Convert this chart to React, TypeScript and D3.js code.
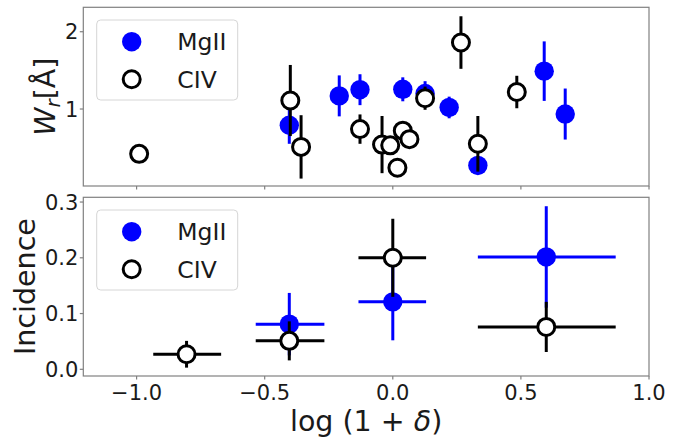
import React from "react";
import * as d3 from "d3";

// ---- Data ----
// Top panel: rest equivalent width vs log(1+delta)
const civX = [-0.99, -0.4, -0.358, -0.128, -0.042, -0.01, 0.039, 0.065, 0.018, 0.126, 0.266, 0.332, 0.484];
const civW = [0.42, 1.11, 0.51, 0.74, 0.54, 0.53, 0.72, 0.61, 0.24, 1.14, 1.86, 0.55, 1.22];
const civWErr = [0, 0.46, 0.41, 0.19, 0.37, 0, 0, 0, 0, 0.15, 0.34, 0.36, 0.21];

const mgX = [-0.404, -0.209, -0.128, 0.039, 0.126, 0.22, 0.332, 0.591, 0.673];
const mgW = [0.79, 1.17, 1.25, 1.255, 1.2, 1.02, 0.27, 1.49, 0.935];
const mgWErr = [0.24, 0.265, 0.2, 0.155, 0.16, 0.14, 0.1, 0.385, 0.33];

// Bottom panel: incidence per density bin
const civBinX = [-0.805, -0.404, 0.0, 0.599];
const civBinLo = [-0.935, -0.535, -0.134, 0.332];
const civBinHi = [-0.67, -0.267, 0.13, 0.87];
const civInc = [0.027, 0.051, 0.2, 0.076];
const civIncErr = [0.024, 0.035, 0.07, 0.045];

const mgBinX = [-0.404, 0.0, 0.599];
const mgBinLo = [-0.535, -0.134, 0.332];
const mgBinHi = [-0.267, 0.13, 0.87];
const mgInc = [0.081, 0.121, 0.2015];
const mgIncErr = [0.056, 0.069, 0.091];

const xTicks = [-1.0, -0.5, 0.0, 0.5, 1.0];
const wTicks = [1, 2];
const incTicks = [0.0, 0.1, 0.2, 0.3];
const seriesNames = ["MgII", "CIV"];

// ---- Layout ----
const W = 694;
const H = 439;
const L = 83.3;
const R = 649;
const topP = { y0: 7.3, y1: 186 };
const botP = { y0: 197.3, y1: 376 };

const BLUE = "#0000ff";
const FRAME = "#808080";
const FONT = "'DejaVu Sans', sans-serif";
const TICK_FS = 21;
const LABEL_FS = 28.5;
const LEG_FS = 23.5;
const MG_R = 9.7;
const CIV_R = 8.5;
const LW = 3;

const x = d3.scaleLinear().domain([-1.208, 1.0]).range([L, R]);
const yW = d3.scaleLinear().domain([0.004, 2.316]).range([topP.y1, topP.y0]);
const yI = d3.scaleLinear().domain([-0.012, 0.3085]).range([botP.y1, botP.y0]);

const fmt = (v: number) => (v < 0 ? "\u2212" : "") + Math.abs(v).toFixed(1);

function Frame({ y0, y1 }: { y0: number; y1: number }) {
  return (
    <rect x={L} y={y0} width={R - L} height={y1 - y0} fill="none" stroke={FRAME} strokeWidth={1.2} />
  );
}

function Legend({ y0 }: { y0: number }) {
  const bx = 96.7, by = y0 + 12.7, bw = 141, bh = 80;
  const r1 = by + 21.7, r2 = by + 59.3;
  return (
    <g>
      <rect x={bx} y={by} width={bw} height={bh} rx={4} fill="white" fillOpacity={0.8} stroke="#d6d6d6" strokeWidth={1} />
      <circle cx={131.7} cy={r1} r={MG_R} fill={BLUE} />
      <circle cx={131.7} cy={r2} r={CIV_R} fill="white" stroke="black" strokeWidth={LW} />
      <text x={177.3} y={r1 + 8.5} fontSize={LEG_FS} fontFamily={FONT} fill="#1a1a1a">{seriesNames[0]}</text>
      <text x={177.3} y={r2 + 8.5} fontSize={LEG_FS} fontFamily={FONT} fill="#1a1a1a">{seriesNames[1]}</text>
    </g>
  );
}

export default function App() {
  return (
    <svg width={W} height={H} viewBox={`0 0 ${W} ${H}`} style={{ position: "absolute", left: 0, top: 0, background: "white" }}>
      <rect x={0} y={0} width={W} height={H} fill="white" />

      {/* ---------- Top panel ---------- */}
      <g>
        {mgX.map((v, i) => (
          <line key={"mge" + i} x1={x(v)} x2={x(v)} y1={yW(mgW[i] - mgWErr[i])} y2={yW(mgW[i] + mgWErr[i])} stroke={BLUE} strokeWidth={LW} />
        ))}
        {mgX.map((v, i) => (
          <circle key={"mgm" + i} cx={x(v)} cy={yW(mgW[i])} r={MG_R} fill={BLUE} />
        ))}
        {civX.map((v, i) =>
          civWErr[i] > 0 ? (
            <line key={"cve" + i} x1={x(v)} x2={x(v)} y1={yW(civW[i] - civWErr[i])} y2={yW(civW[i] + civWErr[i])} stroke="black" strokeWidth={LW} />
          ) : null
        )}
        {civX.map((v, i) => (
          <circle key={"cvm" + i} cx={x(v)} cy={yW(civW[i])} r={CIV_R} fill="white" stroke="black" strokeWidth={LW} />
        ))}
      </g>
      <Frame y0={topP.y0} y1={topP.y1} />
      {xTicks.map((t) => (
        <line key={"txt" + t} x1={x(t)} x2={x(t)} y1={topP.y1} y2={topP.y1 + 3.5} stroke={FRAME} strokeWidth={1.2} />
      ))}
      {wTicks.map((t) => (
        <g key={"wt" + t}>
          <line x1={L - 3.5} x2={L} y1={yW(t)} y2={yW(t)} stroke={FRAME} strokeWidth={1.2} />
          <text x={L - 5} y={yW(t) + 7.6} textAnchor="end" fontSize={TICK_FS} fontFamily={FONT} fill="#1a1a1a">{String(t)}</text>
        </g>
      ))}
      <Legend y0={topP.y0} />
      <text
        transform={`translate(55, ${(topP.y0 + topP.y1) / 2}) rotate(-90)`}
        textAnchor="middle"
        fontSize={LABEL_FS}
        fontFamily={FONT}
        fill="#1a1a1a"
      >
        <tspan fontStyle="italic">W</tspan>
        <tspan fontStyle="italic" fontSize={LABEL_FS * 0.7} dy={5}>r</tspan>
        <tspan dy={-5}>[Å]</tspan>
      </text>

      {/* ---------- Bottom panel ---------- */}
      <g>
        {mgBinX.map((v, i) => (
          <g key={"mbe" + i}>
            <line x1={x(mgBinLo[i])} x2={x(mgBinHi[i])} y1={yI(mgInc[i])} y2={yI(mgInc[i])} stroke={BLUE} strokeWidth={LW} />
            <line x1={x(v)} x2={x(v)} y1={yI(mgInc[i] - mgIncErr[i])} y2={yI(mgInc[i] + mgIncErr[i])} stroke={BLUE} strokeWidth={LW} />
          </g>
        ))}
        {mgBinX.map((v, i) => (
          <circle key={"mbm" + i} cx={x(v)} cy={yI(mgInc[i])} r={MG_R} fill={BLUE} />
        ))}
        {civBinX.map((v, i) => (
          <g key={"cbe" + i}>
            <line x1={x(civBinLo[i])} x2={x(civBinHi[i])} y1={yI(civInc[i])} y2={yI(civInc[i])} stroke="black" strokeWidth={LW} />
            <line x1={x(v)} x2={x(v)} y1={yI(civInc[i] - civIncErr[i])} y2={yI(civInc[i] + civIncErr[i])} stroke="black" strokeWidth={LW} />
          </g>
        ))}
        {civBinX.map((v, i) => (
          <circle key={"cbm" + i} cx={x(v)} cy={yI(civInc[i])} r={CIV_R} fill="white" stroke="black" strokeWidth={LW} />
        ))}
      </g>
      <Frame y0={botP.y0} y1={botP.y1} />
      {xTicks.map((t) => (
        <g key={"bxt" + t}>
          <line x1={x(t)} x2={x(t)} y1={botP.y1} y2={botP.y1 + 3.5} stroke={FRAME} strokeWidth={1.2} />
          <text x={x(t)} y={399.5} textAnchor="middle" fontSize={TICK_FS} fontFamily={FONT} fill="#1a1a1a">{fmt(t)}</text>
        </g>
      ))}
      {incTicks.map((t) => (
        <g key={"it" + t}>
          <line x1={L - 3.5} x2={L} y1={yI(t)} y2={yI(t)} stroke={FRAME} strokeWidth={1.2} />
          <text x={L - 5} y={yI(t) + 7.6} textAnchor="end" fontSize={TICK_FS} fontFamily={FONT} fill="#1a1a1a">{t.toFixed(1)}</text>
        </g>
      ))}
      <Legend y0={botP.y0} />
      <text
        transform={`translate(35, ${(botP.y0 + botP.y1) / 2}) rotate(-90)`}
        textAnchor="middle"
        fontSize={LABEL_FS}
        fontFamily={FONT}
        fill="#1a1a1a"
      >
        Incidence
      </text>
      <text x={(L + R) / 2} y={431} textAnchor="middle" fontSize={LABEL_FS} fontFamily={FONT} fill="#1a1a1a">
        <tspan>log (1 + </tspan>
        <tspan fontStyle="italic">δ</tspan>
        <tspan>)</tspan>
      </text>
    </svg>
  );
}
